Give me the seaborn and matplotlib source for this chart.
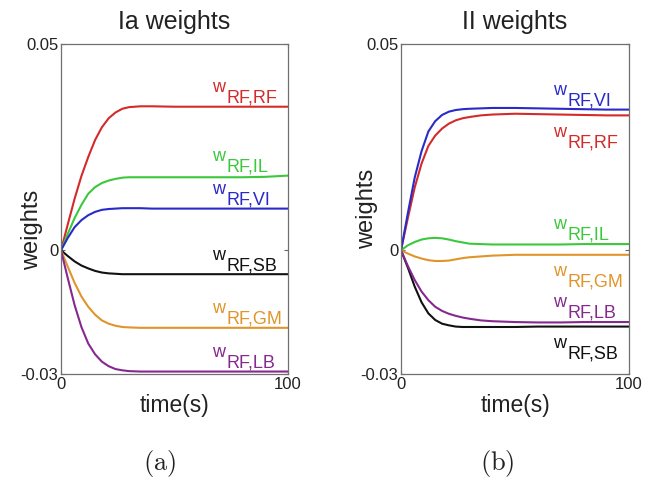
"""
Ia and II afferent weights onto RF over time, two panels (a) and (b).
Writes out.png.
"""
import matplotlib
matplotlib.use("Agg")
import matplotlib.pyplot as plt
import pandas as pd
import seaborn as sns

# sample times (s)
time = [0, 3, 6, 9, 12, 15, 18, 21, 24, 27, 30, 35, 40, 50, 60, 70, 80, 90, 100]

# panel (a): Ia weights
ia_rf = [0, 0.0063, 0.0125, 0.0180, 0.0226, 0.0267, 0.0298, 0.0320, 0.0334, 0.0343,
         0.0347, 0.0349, 0.0349, 0.0348, 0.0348, 0.0348, 0.0348, 0.0348, 0.0348]
ia_il = [0, 0.0040, 0.0078, 0.0110, 0.0137, 0.0153, 0.0163, 0.0169, 0.0173, 0.0176,
         0.0177, 0.0177, 0.0177, 0.0177, 0.0177, 0.0177, 0.0177, 0.0178, 0.0181]
ia_vi = [0, 0.0030, 0.0056, 0.0073, 0.0085, 0.0093, 0.0098, 0.0100, 0.0101, 0.0102,
         0.0102, 0.0102, 0.0101, 0.0101, 0.0101, 0.0101, 0.0101, 0.0101, 0.0101]
ia_sb = [0, -0.0014, -0.0027, -0.0037, -0.0044, -0.0050, -0.0054, -0.0056, -0.0057, -0.0058,
         -0.0058, -0.0058, -0.0058, -0.0058, -0.0058, -0.0058, -0.0058, -0.0058, -0.0058]
ia_gm = [0, -0.0040, -0.0079, -0.0112, -0.0137, -0.0156, -0.0170, -0.0178, -0.0183, -0.0186,
         -0.0187, -0.0188, -0.0188, -0.0188, -0.0188, -0.0188, -0.0188, -0.0188, -0.0188]
ia_lb = [0, -0.0068, -0.0133, -0.0186, -0.0226, -0.0252, -0.0270, -0.0281, -0.0288, -0.0291,
         -0.0293, -0.0294, -0.0294, -0.0294, -0.0294, -0.0294, -0.0294, -0.0294, -0.0294]

# panel (b): II weights
ii_vi = [0, 0.0090, 0.0176, 0.0240, 0.0288, 0.0313, 0.0328, 0.0336, 0.0340, 0.0342,
         0.0343, 0.0344, 0.0345, 0.0345, 0.0344, 0.0343, 0.0342, 0.0341, 0.0341]
ii_rf = [0, 0.0078, 0.0152, 0.0210, 0.0253, 0.0278, 0.0295, 0.0307, 0.0315, 0.0320,
         0.0323, 0.0327, 0.0329, 0.0331, 0.0330, 0.0329, 0.0328, 0.0327, 0.0327]
ii_il = [0, 0.0012, 0.0020, 0.0026, 0.0029, 0.0030, 0.0029, 0.0026, 0.0022, 0.0019,
         0.0016, 0.0015, 0.0014, 0.0014, 0.0014, 0.0014, 0.0015, 0.0015, 0.0015]
ii_gm = [0, -0.0008, -0.0015, -0.0020, -0.0024, -0.0026, -0.0026, -0.0025, -0.0022, -0.0019,
         -0.0017, -0.0015, -0.0013, -0.0011, -0.0011, -0.0011, -0.0011, -0.0011, -0.0011]
ii_lb = [0, -0.0038, -0.0072, -0.0100, -0.0121, -0.0137, -0.0147, -0.0154, -0.0159, -0.0163,
         -0.0166, -0.0170, -0.0172, -0.0174, -0.0175, -0.0175, -0.0174, -0.0174, -0.0174]
ii_sb = [0, -0.0042, -0.0088, -0.0126, -0.0153, -0.0169, -0.0178, -0.0182, -0.0185, -0.0186,
         -0.0186, -0.0186, -0.0186, -0.0186, -0.0185, -0.0185, -0.0185, -0.0185, -0.0185]

muscles = ["RF", "IL", "VI", "SB", "GM", "LB"]
colors = {"RF": "#d42a2a", "IL": "#3cc83c", "VI": "#2a2ac8",
          "SB": "#111111", "GM": "#e0952a", "LB": "#85288f"}

panels = [
    ("Ia weights", "(a)", {"RF": ia_rf, "IL": ia_il, "VI": ia_vi,
                           "SB": ia_sb, "GM": ia_gm, "LB": ia_lb}),
    ("II weights", "(b)", {"RF": ii_rf, "IL": ii_il, "VI": ii_vi,
                           "SB": ii_sb, "GM": ii_gm, "LB": ii_lb}),
]

# which side of its line each label sits on (True = above)
label_above = [
    {"RF": True, "IL": True, "VI": True, "SB": True, "GM": True, "LB": True},
    {"RF": False, "IL": True, "VI": True, "SB": False, "GM": False, "LB": True},
]

y_ticks = [-0.03, 0, 0.05]
y_tick_labels = ["-0.03", "0", "0.05"]
x_ticks = [0, 100]
x_tick_labels = ["0", "100"]

sns.set_theme(style="white")
plt.rcParams["font.family"] = ["Liberation Sans", "DejaVu Sans"]

fig = plt.figure(figsize=(6.53, 4.8), dpi=100)
axes = [fig.add_axes([0.0934, 0.2208, 0.3476, 0.6875]),
        fig.add_axes([0.6141, 0.2208, 0.3492, 0.6875])]
ylabel_x = [-0.079, -0.10]
ylabel_y = [0.436, 0.5]
panel_tag_x = [0.245, 0.762]

for i, (ax, (title, tag, series)) in enumerate(zip(axes, panels)):
    df = pd.concat(
        [pd.DataFrame({"time": time, "weight": series[m], "muscle": m}) for m in muscles],
        ignore_index=True,
    )
    sns.lineplot(data=df, x="time", y="weight", hue="muscle", hue_order=muscles,
                 palette=colors, linewidth=1.5, legend=False, errorbar=None, ax=ax)

    ax.set_xlim(0, 100)
    ax.set_ylim(-0.03, 0.05)
    ax.set_xticks(x_ticks, x_tick_labels)
    ax.set_yticks(y_ticks, y_tick_labels)
    ax.tick_params(direction="in", length=3, width=0.8, colors="#666666",
                   labelcolor="#222222", labelsize=12, pad=2,
                   right=True, top=True, left=True, bottom=True)
    for sp in ax.spines.values():
        sp.set_color("#707070")
        sp.set_linewidth(0.9)
        sp.set_visible(True)

    ax.set_title(title, fontsize=18, pad=11, color="#222222")
    ax.set_xlabel("time(s)", fontsize=16.5, color="#222222")
    ax.set_ylabel("weights", fontsize=17, color="#222222")
    ax.xaxis.set_label_coords(0.5, -0.062)
    ax.yaxis.set_label_coords(ylabel_x[i], ylabel_y[i])

    # curve labels: "w" then the subscript, starting at the same time on every line
    for m in muscles:
        end = series[m][-1]
        dy = 10.5 if label_above[i][m] else -15.5
        ax.annotate("w", xy=(66.5, end), xytext=(0, dy), textcoords="offset points",
                    ha="left", va="baseline", fontsize=13, color=colors[m])
        ax.annotate(f"RF,{m}", xy=(66.5, end), xytext=(10.5, dy - 7.5),
                    textcoords="offset points", ha="left", va="baseline",
                    fontsize=13, color=colors[m])

    fig.text(panel_tag_x[i], 0.035, r"$\mathrm{" + tag + "}$", math_fontfamily="cm",
             fontsize=19, ha="center", va="center", color="#222222")

fig.savefig("out.png", dpi=100)
